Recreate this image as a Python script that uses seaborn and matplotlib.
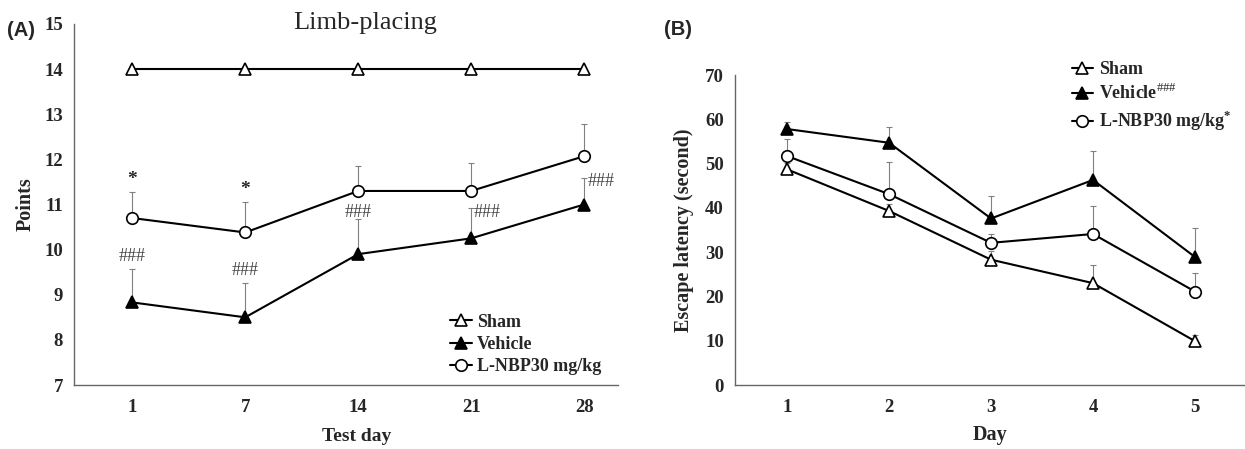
import matplotlib
matplotlib.use("Agg")
import matplotlib.pyplot as plt
import seaborn as sns
import numpy as np
import pandas as pd

# Panel A data (limb placing)
test_days = ["1", "7", "14", "21", "28"]
sham_a = [14, 14, 14, 14, 14]
vehicle_a = [8.83, 8.5, 9.9, 10.25, 11.0]
vehicle_a_err = [0.74, 0.77, 0.77, 0.68, 0.58]
lnbp_a = [10.7, 10.38, 11.3, 11.3, 12.07]
lnbp_a_err = [0.58, 0.68, 0.56, 0.62, 0.71]

# Panel B data (escape latency)
days_b = [1, 2, 3, 4, 5]
sham_b = [48.7, 39.3, 28.3, 23.0, 9.9]
sham_b_err = [1.5, 1.5, 2.0, 4.1, 1.3]
vehicle_b = [57.8, 54.7, 37.6, 46.3, 28.9]
vehicle_b_err = [1.5, 3.6, 5.0, 6.6, 6.5]
lnbp_b = [51.7, 43.1, 32.1, 34.1, 21.1]
lnbp_b_err = [3.8, 7.2, 2.0, 6.4, 4.2]

sns.set_style("white")
plt.rcParams["font.family"] = ["Liberation Serif", "DejaVu Serif"]
plt.rcParams["mathtext.fontset"] = "custom"
plt.rcParams["mathtext.rm"] = "Liberation Serif"
plt.rcParams["mathtext.bf"] = "Liberation Serif:bold"

fig = plt.figure(figsize=(12.45, 4.49), dpi=100)
axA = fig.add_axes([74 / 1245, 64 / 449, 544 / 1245, 361 / 449])
axB = fig.add_axes([735 / 1245, 64 / 449, 510 / 1245, 310 / 449])

styles = {
    "Sham": dict(marker="^", markerfacecolor="white"),
    "Vehicle": dict(marker="^", markerfacecolor="black"),
    "L-NBP30 mg/kg": dict(marker="o", markerfacecolor="white"),
}


def draw(ax, x, y, err, name, label):
    if err is not None:
        ax.errorbar(x, y, yerr=[np.zeros(len(err)), err], fmt="none",
                    ecolor="#808080", elinewidth=0.8, capsize=2.5, capthick=0.8, zorder=1)
    df = pd.DataFrame({"x": x, "y": y})
    sns.lineplot(data=df, x="x", y="y", ax=ax, color="black", linewidth=1.5,
                 markersize=8.3, markeredgecolor="black", markeredgewidth=1.2,
                 label=label, zorder=3, **styles[name])


def style_axes(ax):
    for s in ["top", "right"]:
        ax.spines[s].set_visible(False)
    for s in ["left", "bottom"]:
        ax.spines[s].set_color("#666666")
        ax.spines[s].set_linewidth(1.0)
    ax.tick_params(axis="both", direction="out", length=4, width=0.8, color="#666666",
                   labelsize=13.5, pad=4)
    ax.tick_params(axis="x", pad=6)
    for t in ax.get_xticklabels() + ax.get_yticklabels():
        t.set_fontweight("bold")


legend_prop = dict(family="Liberation Serif", weight="bold", size=13)

# ---- Panel A
xa = np.arange(len(test_days))
draw(axA, xa, sham_a, None, "Sham", "Sham")
draw(axA, xa, vehicle_a, vehicle_a_err, "Vehicle", "Vehicle")
draw(axA, xa, lnbp_a, lnbp_a_err, "L-NBP30 mg/kg", "L-NBP30 mg/kg")
axA.set_xlim(-0.516, 4.3)
axA.set_ylim(7, 15)
axA.set_xticks(xa)
axA.set_xticklabels(test_days)
axA.set_yticks(range(7, 16))
axA.set_xlabel("Test day", fontsize=14, fontweight="bold")
axA.set_ylabel("Points", fontsize=14.5, fontweight="bold")
axA.xaxis.set_label_coords(0.52, -0.12)
axA.yaxis.set_label_coords(-0.07, 0.5)
axA.set_title("Limb-placing", fontsize=19, x=0.535, y=0.962)
style_axes(axA)

# significance marks
for i in [0, 1]:
    axA.text(xa[i], lnbp_a[i] + lnbp_a_err[i] + 0.27, "*", ha="center", va="center",
             fontsize=14, fontweight="bold")
hash_marks = [(0, 0.0, 0.27, "center"), (1, 0.0, 0.26, "center"),
              (2, 0.0, 0.16, "center"), (3, 0.02, -0.1, "left"), (4, 0.03, -0.08, "left")]
for i, dx, dy, ha in hash_marks:
    axA.text(xa[i] + dx, vehicle_a[i] + vehicle_a_err[i] + dy, "###", ha=ha, va="center",
             fontsize=13, color="#444444")

axA.legend(loc="upper left", bbox_to_anchor=(0.661, 0.243), frameon=False,
           handlelength=1.2, handletextpad=0.3, labelspacing=0.3, borderpad=0.4,
           prop=legend_prop)

# ---- Panel B
draw(axB, days_b, sham_b, sham_b_err, "Sham", "Sham")
draw(axB, days_b, vehicle_b, vehicle_b_err, "Vehicle", r"Vehicle$^{\#\#\#}$")
draw(axB, days_b, lnbp_b, lnbp_b_err, "L-NBP30 mg/kg", r"L-NBP30 mg/kg$^{\mathbf{*}}$")
axB.set_xlim(0.49, 5.49)
axB.set_ylim(0, 70)
axB.set_xticks(days_b)
axB.set_yticks(range(0, 71, 10))
axB.set_xlabel("Day", fontsize=14.5, fontweight="bold")
axB.set_ylabel("Escape latency (second)", fontsize=14.5, fontweight="bold")
axB.xaxis.set_label_coords(0.5, -0.13)
axB.yaxis.set_label_coords(-0.08, 0.5)
style_axes(axB)
axB.legend(loc="upper left", bbox_to_anchor=(0.628, 1.098), frameon=False,
           handlelength=1.2, handletextpad=0.3, labelspacing=0.3, borderpad=0.4,
           prop=legend_prop)

fig.text(7 / 1245, 1 - 36 / 449, "(A)", fontsize=14.5, fontweight="bold", family="Liberation Sans")
fig.text(664 / 1245, 1 - 35 / 449, "(B)", fontsize=14.5, fontweight="bold", family="Liberation Sans")

fig.savefig("out.png", dpi=100)
